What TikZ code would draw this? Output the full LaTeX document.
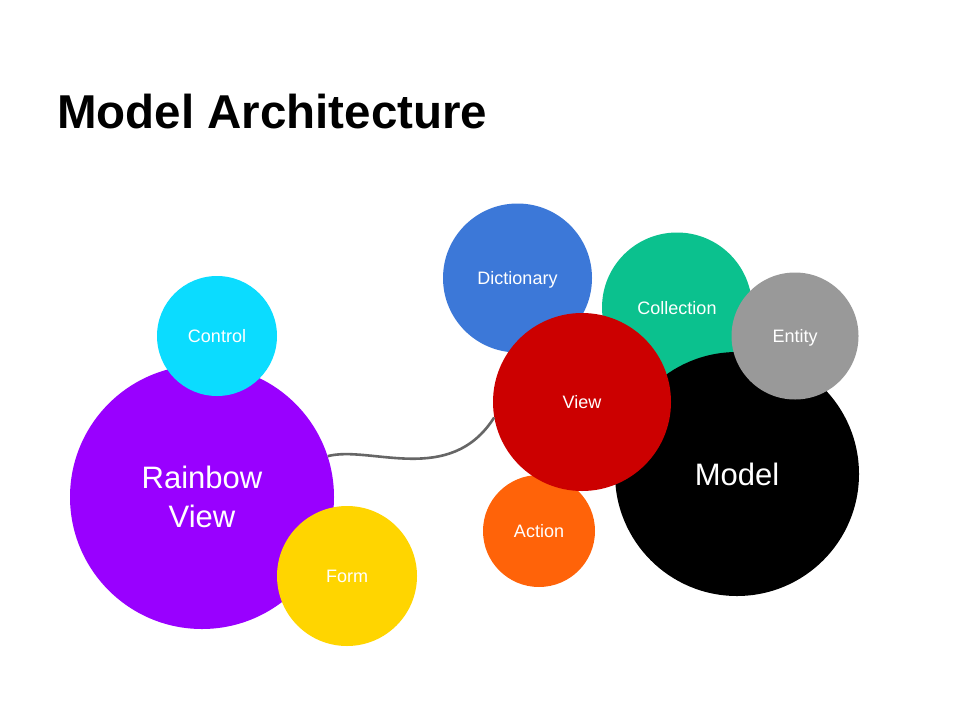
\documentclass[tikz,border=0pt]{standalone}
\usepackage{fontspec}
\setmainfont{Liberation Sans}
\definecolor{cpurple}{HTML}{9900FF}
\definecolor{ccyan}{HTML}{0BDCFF}
\definecolor{cyellow}{HTML}{FFD500}
\definecolor{cblue}{HTML}{3C78D8}
\definecolor{cgreen}{HTML}{0BC18E}
\definecolor{cgray}{HTML}{999999}
\definecolor{cred}{HTML}{CC0000}
\definecolor{corange}{HTML}{FF6309}
\definecolor{cline}{HTML}{666666}
\begin{document}
\begin{tikzpicture}[x=1pt,y=-1pt,
  bubble/.style={circle,inner sep=0pt,text=white,font=\fontsize{18}{22}\selectfont,align=center,text height=13pt,text depth=0pt},
  bigbubble/.style={circle,inner sep=0pt,text=white,align=center,font=\fontsize{31}{39}\selectfont},
  link/.style={draw=cline,line width=2.6pt}]
\useasboundingbox[fill=white] (0,0) rectangle (960,720);
\node[anchor=base west,font=\fontsize{47.5}{52}\selectfont\bfseries,inner sep=0pt] (title) at (57,128) {Model Architecture};
\node[bigbubble,fill=cpurple,minimum size=264pt] (rv) at (202,497) {Rainbow\\View};
\node[bubble,fill=ccyan,minimum size=120pt] (control) at (217,336) {Control};
\node[bubble,fill=cyellow,minimum size=140pt] (form) at (347,576) {Form};
\node[bubble,fill=cblue,minimum size=149pt] (dict) at (517.5,278) {Dictionary};
\node[bubble,fill=cgreen,minimum size=150pt] (coll) at (677,307.5) {Collection};
\node[bigbubble,fill=black,minimum size=244pt,text height=22pt,text depth=0pt] (model) at (737,474) {Model};
\node[bubble,fill=cgray,minimum size=127pt] (entity) at (795,336) {Entity};
\node[bubble,fill=corange,minimum size=112pt] (action) at (539,531) {Action};
\node[bubble,fill=cred,minimum size=178pt] (view) at (582,402) {View};
\path[link] (rv.18) .. controls (370,445) and (450,487) .. (view.190);
\end{tikzpicture}
\end{document}
